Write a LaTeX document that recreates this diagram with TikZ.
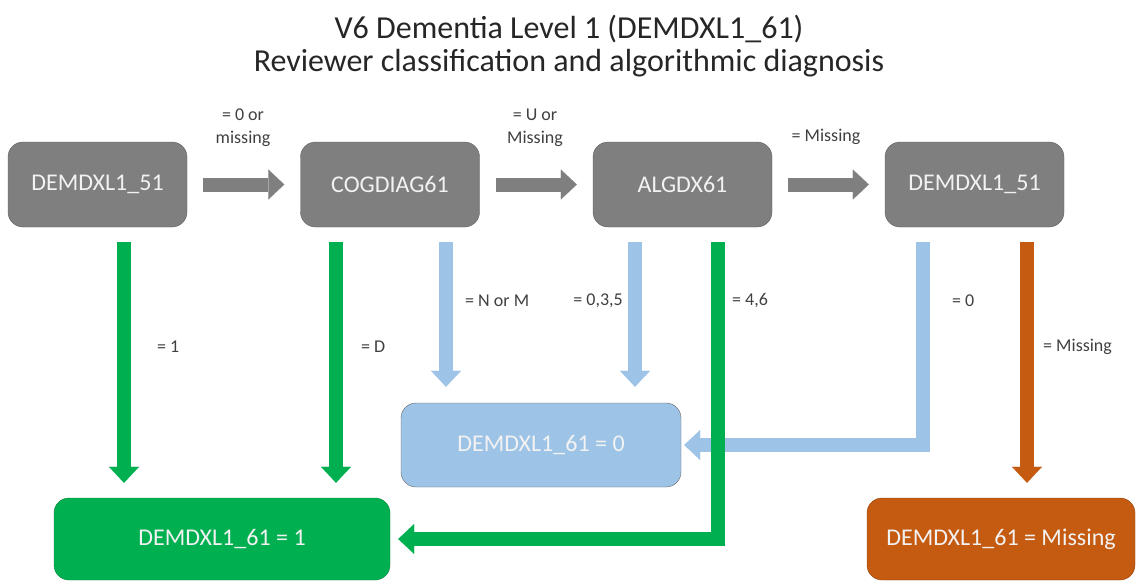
\documentclass[tikz,border=0pt]{standalone}
\usepackage{fontspec}
\setmainfont{Carlito}
\usetikzlibrary{positioning, arrows.meta}

\definecolor{boxgray}{HTML}{7F7F7F}
\definecolor{boxgreen}{HTML}{00B050}
\definecolor{boxblue}{HTML}{9DC3E6}
\definecolor{boxorange}{HTML}{C55A11}
\definecolor{labelgray}{HTML}{404040}

\begin{document}
\begin{tikzpicture}[x=1pt, y=-1pt,
  % Node Styles
  varnode/.style={rectangle, rounded corners=15pt, draw=boxgray!75!black, fill=boxgray, text=white!95!black, minimum width=179pt, minimum height=85pt, font=\fontsize{24}{28}\selectfont},
  resnode/.style={rectangle, rounded corners=15pt, text=white!95!black, minimum height=82pt, font=\fontsize{24}{28}\selectfont},
  condlabel/.style={text=labelgray, align=center, inner sep=0pt, font=\fontsize{18}{23}\selectfont},
  % Arrow Styles
  blockarrow/.style={-{Triangle[width=30pt, length=16pt, line width=0.1pt]}, line width=14pt, line join=miter},
  grayarrow/.style={blockarrow, draw=boxgray, shorten <=16pt, shorten >=16pt},
  greenarrow/.style={blockarrow, draw=boxgreen, shorten <=15pt, shorten >=15pt},
  bluearrow/.style={blockarrow, draw=boxblue, shorten <=15pt, shorten >=16pt},
  orangearrow/.style={blockarrow, draw=boxorange, shorten <=15pt, shorten >=15pt}
]
\useasboundingbox (0,0) rectangle (1138,582);

% Title
\node[text=black!85, align=center, font=\fontsize{32}{33}\selectfont] (title) at (569,46) {V6 Dementia Level 1 (DEMDXL1\_61)\\Reviewer classification and algorithmic diagnosis};

% Top row
\node[varnode] (dem51a) at (97.5,184.5) {DEMDXL1\_51};
\node[varnode] (cogdiag) at (390,184.5) {COGDIAG61};
\node[varnode] (algdx) at (682.5,184.5) {ALGDX61};
\node[varnode] (dem51b) at (974.5,184.5) {DEMDXL1\_51};

% Results
\node[resnode, fill=boxgreen, draw=boxgreen!75!black, minimum width=336pt] (resone) at (222,539) {DEMDXL1\_61 = 1};
\node[resnode, fill=boxblue, draw=boxgray!80!black, minimum width=280pt, minimum height=84pt] (reszero) at (541,445) {DEMDXL1\_61 = 0};
\node[resnode, fill=boxorange, draw=boxorange!75!black, minimum width=268pt] (resmiss) at (1001,539) {DEMDXL1\_61 = Missing};

% Horizontal steps
\draw[grayarrow] (dem51a) -- (cogdiag);
\node[condlabel] (l01) at (243,128) {= 0 or\\missing};
\draw[grayarrow] (cogdiag) -- (algdx);
\node[condlabel] (l02) at (535,128) {= U or\\Missing};
\draw[grayarrow] (algdx) -- (dem51b);
\node[condlabel] (l03) at (826,137) {= Missing};

% Down arrows
\draw[greenarrow] ([xshift=26.5pt]dem51a.south) -- ([xshift=26.5pt]dem51a.south |- resone.north);
\node[condlabel, anchor=west] (l04) at (157,347) {= 1};
\draw[greenarrow] ([xshift=-54pt]cogdiag.south) -- ([xshift=-54pt]cogdiag.south |- resone.north);
\node[condlabel, anchor=west] (l05) at (361,347) {= D};
\draw[bluearrow] ([xshift=56pt]cogdiag.south) -- ([xshift=56pt]cogdiag.south |- reszero.north);
\node[condlabel, anchor=west] (l06) at (465,301) {= N or M};
\draw[bluearrow] ([xshift=-47.5pt]algdx.south) -- ([xshift=-47.5pt]algdx.south |- reszero.north);
\node[condlabel, anchor=east] (l07) at (623,301) {= 0,3,5};
\draw[bluearrow, shorten >=3pt] ([xshift=-51.5pt]dem51b.south) |- (reszero.east);
\node[condlabel, anchor=west] (l09) at (952,301) {= 0};
\draw[orangearrow] ([xshift=52.5pt]dem51b.south) -- ([xshift=52.5pt]dem51b.south |- resmiss.north);
\node[condlabel, anchor=west] (l10) at (1043,347) {= Missing};
\draw[greenarrow, shorten >=8pt] ([xshift=35.5pt]algdx.south) |- (resone.east);
\node[condlabel, anchor=west] (l08) at (732,301) {= 4,6};

\end{tikzpicture}
\end{document}
